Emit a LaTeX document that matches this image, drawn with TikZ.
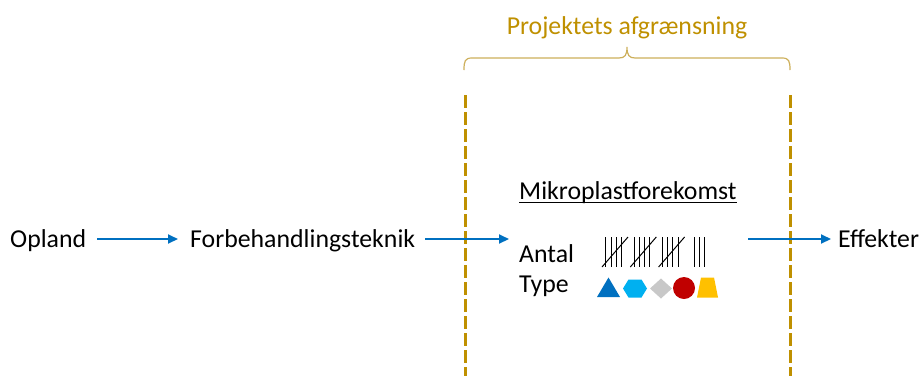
\documentclass[tikz,border=0pt]{standalone}
\usepackage{fontspec}
\setmainfont{Carlito}
\usetikzlibrary{arrows.meta,calc}
\definecolor{arrowblue}{RGB}{0,112,192}
\definecolor{gold}{RGB}{191,144,0}
\definecolor{lightgold}{RGB}{205,175,90}
\definecolor{tridark}{RGB}{0,112,192}
\definecolor{hexblue}{RGB}{0,176,240}
\definecolor{diagrey}{RGB}{200,200,200}
\definecolor{circred}{RGB}{192,0,0}
\definecolor{trapyel}{RGB}{255,192,0}
\begin{document}
\begin{tikzpicture}[x=1pt,y=-1pt,
  lbl/.style={anchor=base west,inner sep=0pt,font=\fontsize{25.8}{30}\selectfont},
  flow/.style={arrowblue,line width=2pt,-{Triangle[length=10pt,width=9pt]}},
  bound/.style={gold,line width=3pt,dash pattern=on 13pt off 4pt},
  tally/.style={black,line width=1pt}]
\useasboundingbox (0,0) rectangle (921,376);
% title and brace
\node[anchor=base,inner sep=0pt,font=\fontsize{25.8}{30}\selectfont,text=gold] (title) at (627,34) {Projektets afgrænsning};
\draw[lightgold,line width=1.2pt] (464,70) .. controls (464,61) and (465,58) .. (472,58)
  -- (619,58) .. controls (625,58) and (627,55) .. (627,47)
  .. controls (627,55) and (629,58) .. (635,58) -- (782,58)
  .. controls (789,58) and (790,61) .. (790,70);
% boundaries
\coordinate (lt) at (465,95); \coordinate (lb) at (465,376);
\coordinate (rt) at (790,95); \coordinate (rb) at (790,376);
\draw[bound] (lt) -- (lb);
\draw[bound] (rt) -- (rb);
% labels
\node[lbl] (opland) at (10,247.3) {Opland};
\node[lbl] (forb) at (190,247.3) {Forbehandlingsteknik};
\node[lbl] (eff) at (838,247.3) {Effekter};
\node[lbl] (mikro) at (519,199.3) {Mikroplastforekomst};
\draw[black,line width=1.6pt] ($(mikro.base west)+(0,3)$) -- ($(mikro.base east)+(0,3)$);
\node[lbl] (antal) at (519,262.3) {Antal};
\node[lbl] (type) at (519,292.3) {Type};
% arrows
\coordinate (a1s) at (97,239); \coordinate (a1e) at (178,239);
\coordinate (a2s) at (425,239); \coordinate (a2e) at (509,239);
\coordinate (a3s) at (748,239); \coordinate (a3e) at (831,239);
\draw[flow] (a1s) -- (a1e);
\draw[flow] (a2s) -- (a2e);
\draw[flow] (a3s) -- (a3e);
% tally marks
\foreach \g in {0,28.3,56.6}{
  \foreach \i in {0,1,2,3}{
    \draw[tally] (605.7+\g+5.3*\i,237) -- (605.7+\g+5.3*\i,267);
  }
  \draw[tally] (602+\g,267) -- (628+\g,237);
}
\foreach \i in {0,1,2}{
  \draw[tally] (694+5*\i,237) -- (694+5*\i,267);
}
% shapes
\fill[tridark] (597,297) -- (608.5,277.5) -- (620,297) -- cycle;
\fill[hexblue] (623,288.5) -- (628.5,279.5) -- (641.5,279.5) -- (647,288.5) -- (641.5,297.5) -- (628.5,297.5) -- cycle;
\fill[diagrey] (650,288.5) -- (661,278.5) -- (672,288.5) -- (661,298.5) -- cycle;
\fill[circred] (684,288) circle (11pt);
\fill[trapyel] (697,297.5) -- (701,277.5) -- (714,277.5) -- (718,297.5) -- cycle;
\end{tikzpicture}
\end{document}
